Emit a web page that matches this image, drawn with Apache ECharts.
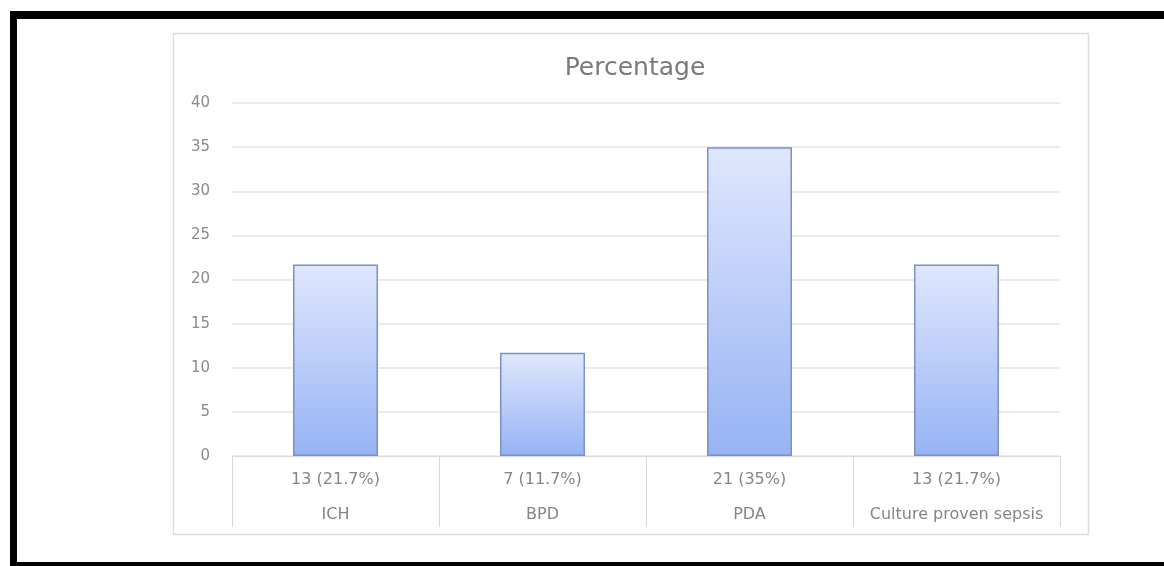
<!DOCTYPE html>
<html>
<head>
<meta charset="utf-8">
<script src="https://cdn.jsdelivr.net/npm/echarts@6/dist/echarts.min.js"></script>
<style>
  html, body { margin: 0; padding: 0; background: #fff; }
  #chart { width: 1164px; height: 566px; }
</style>
</head>
<body>
<div id="chart"></div>
<script>
const CATEGORIES = ['ICH', 'BPD', 'PDA', 'Culture proven sepsis']
const COUNTS = [13, 7, 21, 13]
const PERCENTS = [21.7, 11.7, 35, 21.7]
const Y_TICKS = [0, 5, 10, 15, 20, 25, 30, 35, 40]

const chart = echarts.init(document.getElementById('chart'))

const labelFont = 'DejaVu Sans'

const option = {
  animation: false,
  backgroundColor: '#ffffff',
  title: {
    text: 'Percentage',
    left: 630,
    top: 51,
    textAlign: 'center',
    textStyle: {
      fontFamily: labelFont,
      fontSize: 25,
      fontWeight: 'normal',
      color: '#7a7a7a'
    }
  },
  graphic: [
    // outer chart box
    {
      type: 'rect',
      shape: { x: 173.5, y: 33.5, width: 915, height: 501 },
      style: { fill: 'none', stroke: '#dcdcdc', lineWidth: 1.5 },
      z: -1
    },
    // black frame (top, left, bottom)
    { type: 'rect', shape: { x: 10, y: 11, width: 1154, height: 8 }, style: { fill: '#000' } },
    { type: 'rect', shape: { x: 10, y: 11, width: 7, height: 555 }, style: { fill: '#000' } },
    { type: 'rect', shape: { x: 10, y: 562, width: 1154, height: 4 }, style: { fill: '#000' } }
  ],
  grid: {
    left: 232,
    right: 104,
    top: 103,
    bottom: 110
  },
  xAxis: {
    type: 'category',
    data: CATEGORIES,
    axisLine: { lineStyle: { color: '#d9d9d9', width: 1 } },
    axisTick: {
      show: true,
      interval: 0,
      length: 71,
      lineStyle: { color: '#d9d9d9' }
    },
    axisLabel: {
      interval: 0,
      margin: 6,
      lineHeight: 35,
      fontFamily: labelFont,
      fontSize: 16,
      color: '#858585',
      formatter: function (name, idx) {
        return COUNTS[idx] + ' (' + PERCENTS[idx] + '%)\n' + name
      }
    }
  },
  yAxis: {
    type: 'value',
    min: Y_TICKS[0],
    max: Y_TICKS[Y_TICKS.length - 1],
    interval: 5,
    axisLine: { show: false },
    axisTick: { show: false },
    axisLabel: {
      margin: 22,
      fontFamily: labelFont,
      fontSize: 15,
      color: '#8a8a8a'
    },
    splitLine: { lineStyle: { color: '#e4e4e4', width: 1.5 } }
  },
  series: [
    {
      type: 'bar',
      data: PERCENTS,
      barWidth: 85,
      itemStyle: {
        color: new echarts.graphic.LinearGradient(0, 0, 0, 1, [
          { offset: 0, color: '#e0e7fd' },
          { offset: 1, color: '#96b3f4' }
        ]),
        borderColor: '#7c90c2',
        borderWidth: 1.5
      }
    }
  ]
}

chart.setOption(option)
</script>
</body>
</html>
